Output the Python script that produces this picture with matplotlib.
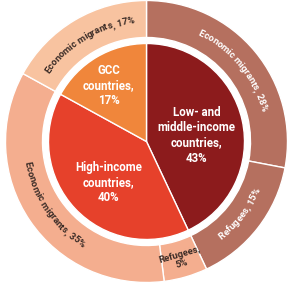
import numpy as np
import matplotlib
matplotlib.use('Agg')
import matplotlib.pyplot as plt
from matplotlib.font_manager import FontProperties
from matplotlib.textpath import TextToPath

# inner ring: where migrants go
inner_labels = ['Low- and\nmiddle-income\ncountries,\n43%', 'High-income\ncountries,\n40%', 'GCC\ncountries,\n17%']
inner_values = [43, 40, 17]
inner_colors = ['#8c1b1c', '#e6412b', '#f0863b']

# outer ring: type of migrant
outer_labels = ['Economic migrants, 28%', 'Refugees, 15%', 'Refugees,\n5%', 'Economic migrants, 35%', 'Economic migrants, 17%']
outer_values = [28, 15, 5, 35, 17]
outer_colors = ['#b5705f', '#b5705f', '#f4ae8f', '#f4ae8f', '#f8c3a0']
outer_text = ['white', 'white', '#3a2b26', '#3a2b26', '#3a2b26']

DPI = 100
fig = plt.figure(figsize=(2.94, 2.84), dpi=DPI)
ax = fig.add_axes([0, 0, 1, 1])

# work in pixels, centre of the donut at (0,0)
R_OUT, R_MID, R_PIE = 141, 104, 98

ax.pie(outer_values, radius=R_OUT, colors=outer_colors, startangle=90, counterclock=False,
       wedgeprops=dict(width=R_OUT - R_MID, edgecolor='white', linewidth=1))
ax.pie(inner_values, radius=R_PIE, colors=inner_colors, startangle=90, counterclock=False,
       wedgeprops=dict(edgecolor='white', linewidth=1))

ax.set_xlim(-146.5, 147.5)
ax.set_ylim(-142.5, 141.5)
ax.set_aspect('equal')
ax.axis('off')

# inner labels (offsets from centre in px)
inner_pos = [(50, 6), (-38, -41), (-38, 56)]
for lab, (x, y) in zip(inner_labels, inner_pos):
    ax.text(x, y, lab, ha='center', va='center', color='white', fontsize=8.3,
            family='Roboto', weight='bold', linespacing=1.22)

t2p = TextToPath()
prop = FontProperties(family='Roboto', weight='bold', size=6.8)


def width_px(s):
    if s == '':
        return 0.0
    w, h, d = t2p.get_text_width_height_descent(s, prop, ismath=False)
    return w * DPI / 72.0


def arc_text(s, mid_cw, r, color, top=True):
    'put a string along the ring, one char at a time'
    W = width_px(s)
    phi0 = 90 - mid_cw
    for i, ch in enumerate(s):
        off = (width_px(s[:i]) + width_px(s[:i + 1])) / 2 - W / 2
        da = np.degrees(off / r)
        if top:
            phi = phi0 - da
            rot = phi - 90
        else:
            phi = phi0 + da
            rot = phi + 90
        x = r * np.cos(np.radians(phi))
        y = r * np.sin(np.radians(phi))
        ax.text(x, y, ch, ha='center', va='center', rotation=rot, rotation_mode='anchor',
                color=color, fontproperties=prop)


# mid angle of each outer wedge, clockwise from top
cum = np.cumsum([0] + outer_values)
mids = (cum[:-1] + cum[1:]) / 2 * 3.6
top_side = [True, False, False, False, True]

for i, lab in enumerate(outer_labels):
    if '\n' in lab:
        phi = np.radians(90 - mids[i])
        ax.text(123 * np.cos(phi), 123 * np.sin(phi), lab, ha='center', va='center',
                rotation=90 - mids[i] + 90, rotation_mode='anchor', color=outer_text[i],
                fontproperties=prop, linespacing=1.05)
    else:
        arc_text(lab, mids[i], 121, outer_text[i], top=top_side[i])

plt.savefig('out.png', dpi=DPI)
